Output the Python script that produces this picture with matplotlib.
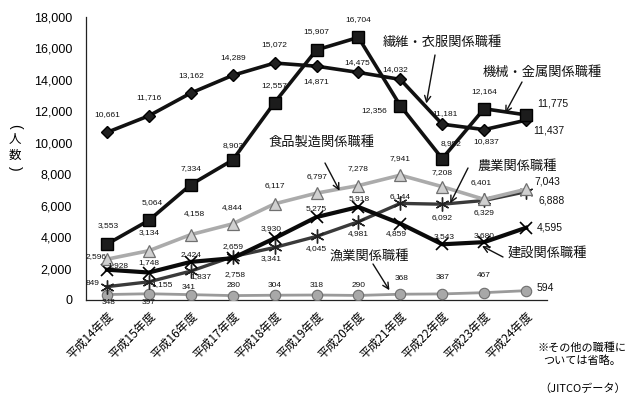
import matplotlib
matplotlib.use('Agg')
import matplotlib.pyplot as plt

plt.rcParams['font.family'] = ['Liberation Sans', 'Noto Sans CJK JP', 'DejaVu Sans']
CJK = ['Noto Sans CJK JP', 'DejaVu Sans']

# ---------------- data ----------------
years = ['平成14年度', '平成15年度', '平成16年度', '平成17年度', '平成18年度', '平成19年度',
         '平成20年度', '平成21年度', '平成22年度', '平成23年度', '平成24年度']
kikai = [3553, 5064, 7334, 8903, 12557, 15907, 16704, 12356, 8992, 12164, 11775]      # 機械・金属
seni = [10661, 11716, 13162, 14289, 15072, 14871, 14475, 14032, 11181, 10837, 11437]  # 繊維・衣服
shokuhin = [2596, 3134, 4158, 4844, 6117, 6797, 7278, 7941, 7208, 6401, 7043]         # 食品製造
nogyo = [849, 1155, 1837, 2758, 3341, 4045, 4981, 6144, 6092, 6329, 6888]             # 農業
kensetsu = [1928, 1748, 2424, 2659, 3930, 5275, 5918, 4859, 3543, 3680, 4595]         # 建設
gyogyo = [348, 397, 341, 280, 304, 318, 290, 368, 387, 467, 594]                      # 漁業
yticks = [0, 2000, 4000, 6000, 8000, 10000, 12000, 14000, 16000, 18000]

# label offsets (pixels) for value labels
off_kikai = [(1, 19), (3, 18), (0, 16), (0, 14), (0, 17), (0, 18), (0, 18), (-26, -5), (9, 15), (0, 17), (11, 11)]
off_seni = [(0, 18), (0, 18), (0, 18), (0, 18), (0, 18), (0, -15), (-1, 10), (-5, 10), (3, 11), (2, -12), (7, -10)]
off_shok = [(-11, 3), (0, 18), (4, 21), (0, 16), (0, 18), (1, 17), (0, 17), (0, 17), (0, 14), (-3, 17), (8, 8)]
off_nogyo = [(-14, 3), (13, -3), (10, -5), (2, -18), (-3, -11), (0, -12), (0, -12), (0, 7), (0, -13), (0, -12), (12, -9)]
off_kens = [(11, 4), (0, 10), (0, 7), (0, 12), (-3, 10), (0, 9), (1, 8), (-4, -10), (2, 8), (0, 7), (11, 0)]
off_gyo = [(2, -8), (0, -9), (-2, 7), (1, 10), (0, 10), (0, 10), (0, 10), (1, 16), (0, 16), (0, 17), (11, 3)]

W, H = 637, 401
fig = plt.figure(figsize=(W / 100, H / 100), dpi=100)
ax = fig.add_axes([86 / W, 1 - 300 / H, (547 - 86) / W, (300 - 17) / H])
x = list(range(len(years)))

# ---------------- series ----------------
ax.plot(x, gyogyo, color='#9a9a9a', lw=2, marker='o', ms=7.5, mfc='#a8a8a8', mec='#6e6e6e', mew=0.8, zorder=3)
ax.plot(x, nogyo, color='#3a3a3a', lw=2.4, marker=(6, 2, 0), ms=10, mec='#222222', mew=1.0, zorder=4)
ax.plot(x, kensetsu, color='#0a0a0a', lw=3, marker='x', ms=8, mec='#000000', mew=1.2, zorder=4)
ax.plot(x, shokuhin, color='#ababab', lw=2.6, marker='^', ms=8, mfc='#d0d0d0', mec='#707070', mew=0.9, zorder=5)
ax.plot(x, seni, color='#111111', lw=2.6, marker='D', ms=6, mfc='#202020', mec='#000000', zorder=6)
ax.plot(x, kikai, color='#111111', lw=2.6, marker='s', ms=9, mfc='#1c1c1c', mec='#000000', zorder=7)

def labels(vals, offs):
    n = len(vals)
    for i, (v, (dx, dy)) in enumerate(zip(vals, offs)):
        last = (i == n - 1)
        ax.annotate(f'{v:,}', (i, v), xytext=(dx, dy), textcoords='offset pixels',
                    ha='left' if last else 'center', va='center',
                    fontsize=7.5 if last else 6, color='#111111', zorder=10)

labels(kikai, off_kikai)
labels(seni, off_seni)
labels(shokuhin, off_shok)
labels(nogyo, off_nogyo)
labels(kensetsu, off_kens)
labels(gyogyo, off_gyo)

# ---------------- axes ----------------
ax.set_xlim(-0.5, len(years) - 0.5)
ax.set_ylim(0, 18000)
ax.set_yticks(yticks)
ax.set_yticklabels([f'{t:,}' for t in yticks], fontsize=9)
ax.set_xticks(x)
ax.set_xticklabels(years, rotation=45, ha='right', rotation_mode='anchor', fontsize=8.5, family=CJK)
ax.tick_params(axis='y', length=0, pad=10)
ax.tick_params(axis='x', length=0, pad=7)
for s in ['top', 'right']:
    ax.spines[s].set_visible(False)
for s in ['left', 'bottom']:
    ax.spines[s].set_linewidth(0.9)
    ax.spines[s].set_color('#222222')
ax.patch.set_alpha(0)

# ---------------- annotations ----------------
def fp(px, py):
    return (px / W, 1 - py / H)

notes = [
    ('繊維・衣服関係職種', (383, 42), (435, 55), (7.62, 12500)),
    ('機械・金属関係職種', (483, 72), (522, 82), (9.5, 11870)),
    ('食品製造関係職種', (268, 142), (325, 163), (5.55, 6950)),
    ('農業関係職種', (477, 166), (468, 168), (8.19, 6150)),
    ('建設関係職種', (508, 253), (503, 257), (8.95, 3430)),
    ('漁業関係職種', (330, 257), (373, 264), (6.74, 620)),
]
for txt, tpos, tail, head in notes:
    fig.text(*fp(*tpos), txt, ha='left', va='center', fontsize=9.5, family=CJK, color='#111111')
    ax.annotate('', xy=head, xycoords='data', xytext=fp(*tail), textcoords='figure fraction',
                arrowprops=dict(arrowstyle='->', color='#111111', lw=1.0, shrinkA=0, shrinkB=0,
                                mutation_scale=11), zorder=12)

# vertical y-axis title （人数）
fig.text(*fp(15, 126), '(', rotation=-90, ha='center', va='center', fontsize=10, family='Liberation Sans')
fig.text(*fp(15, 139), '人', ha='center', va='center', fontsize=9, family=CJK)
fig.text(*fp(15, 155), '数', ha='center', va='center', fontsize=9, family=CJK)
fig.text(*fp(15, 168), ')', rotation=-90, ha='center', va='center', fontsize=10, family='Liberation Sans')

fig.text(*fp(582, 354), '※その他の職種に\nついては省略。', ha='center', va='center', fontsize=8,
         family=CJK, linespacing=1.3)
fig.text(*fp(626, 389), '（JITCOデータ）', ha='right', va='center', fontsize=8, family=CJK)

fig.savefig('out.png', dpi=100, facecolor='white')
